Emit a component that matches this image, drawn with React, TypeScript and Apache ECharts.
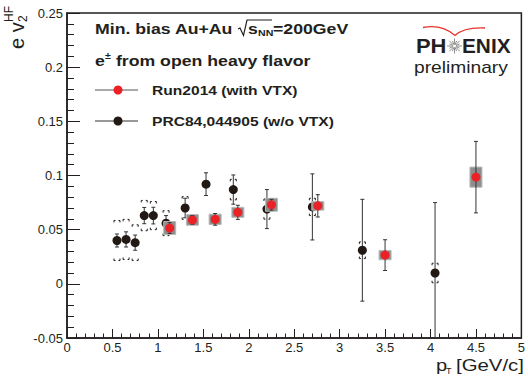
import React, { useEffect, useRef } from "react";
import * as echarts from "echarts";

// PRC84,044905 (w/o VTX)
const prcPt = [0.55, 0.65, 0.75, 0.85, 0.95, 1.09, 1.3, 1.53, 1.83, 2.2, 2.7, 3.25, 4.05];
const prcV2 = [0.040, 0.041, 0.038, 0.063, 0.063, 0.056, 0.070, 0.092, 0.087, 0.069, 0.071, 0.031, 0.010];
const prcStat = [0.006, 0.007, 0.007, 0.0075, 0.0077, 0.007, 0.009, 0.0105, 0.0135, 0.018, 0.0305, 0.047, 0.065];
const prcSys = [0.0185, 0.0185, 0.0165, 0.014, 0.013, 0.0115, 0.0105, 0.002, 0.0095, 0.0093, 0.008, 0.0077, 0.009];

// Run2014 (with VTX)
const runPt = [1.13, 1.38, 1.63, 1.88, 2.25, 2.76, 3.5, 4.5];
const runV2 = [0.0515, 0.059, 0.0595, 0.066, 0.073, 0.072, 0.0265, 0.0985];
const runStat = [0.005, 0.004, 0.0054, 0.0065, 0.005, 0.0103, 0.0142, 0.033];
const runSys = [0.006, 0.0049, 0.0048, 0.0046, 0.006, 0.004, 0.0043, 0.0093];

const xTickLabels = ["0", "0.5", "1", "1.5", "2", "2.5", "3", "3.5", "4", "4.5", "5"];
const yTickLabels = ["-0.05", "0", "0.05", "0.1", "0.15", "0.2", "0.25"];

const FONT = "'Liberation Sans', Arial, Helvetica, sans-serif";
const INK = "#231f20";
const BLACK = "#221915";
const RED = "#ec2125";
const ERR = "#333";

function clampY(v: number, cs: any) {
  return Math.max(cs.y, Math.min(cs.y + cs.height, v));
}

export default function App() {
  const ref = useRef<HTMLDivElement>(null);
  useEffect(() => {
    if (!ref.current) return;
    const chart = echarts.init(ref.current, undefined, { renderer: "svg" });

    const prcData = prcPt.map((x, i) => [x, prcV2[i], prcStat[i], prcSys[i]]);
    const runData = runPt.map((x, i) => [x, runV2[i], runStat[i], runSys[i]]);

    const blackErr = (params: any, api: any) => {
      const cs = params.coordSys;
      const x = api.value(0), y = api.value(1), s = api.value(2), sy = api.value(3);
      const t = api.coord([x, y + s]);
      const b = api.coord([x, y - s]);
      const ty = clampY(t[1], cs), by = clampY(b[1], cs);
      const cx = t[0];
      const st = { stroke: ERR, lineWidth: 1 };
      const kids: any[] = [
        { type: "line", shape: { x1: cx, y1: ty, x2: cx, y2: by }, style: st },
      ];
      if (t[1] >= cs.y) kids.push({ type: "line", shape: { x1: cx - 2, y1: ty, x2: cx + 2, y2: ty }, style: st });
      if (b[1] <= cs.y + cs.height) kids.push({ type: "line", shape: { x1: cx - 2, y1: by, x2: cx + 2, y2: by }, style: st });
      const st2 = api.coord([x, y + sy])[1];
      const sb2 = api.coord([x, y - sy])[1];
      const bs = { stroke: BLACK, lineWidth: 1, fill: "none" };
      const o = 3, a = 1.5, h = 2;
      kids.push({ type: "polyline", shape: { points: [[cx - o, st2 + h], [cx - o, st2], [cx - a, st2]] }, style: bs });
      kids.push({ type: "polyline", shape: { points: [[cx + a, st2], [cx + o, st2], [cx + o, st2 + h]] }, style: bs });
      kids.push({ type: "polyline", shape: { points: [[cx - o, sb2 - h], [cx - o, sb2], [cx - a, sb2]] }, style: bs });
      kids.push({ type: "polyline", shape: { points: [[cx + a, sb2], [cx + o, sb2], [cx + o, sb2 - h]] }, style: bs });
      return { type: "group", children: kids };
    };

    const redErr = (params: any, api: any) => {
      const x = api.value(0), y = api.value(1), s = api.value(2), sy = api.value(3);
      const t = api.coord([x, y + s]);
      const b = api.coord([x, y - s]);
      const cx = t[0];
      const bt = api.coord([x, y + sy])[1];
      const bb = api.coord([x, y - sy])[1];
      const st = { stroke: ERR, lineWidth: 1 };
      return {
        type: "group",
        children: [
          { type: "rect", shape: { x: cx - 6, y: bt, width: 12, height: bb - bt }, style: { fill: "#8e8e8e", stroke: "#b8b8b8", lineWidth: 1 } },
          { type: "line", shape: { x1: cx, y1: t[1], x2: cx, y2: b[1] }, style: st },
          { type: "line", shape: { x1: cx - 2, y1: t[1], x2: cx + 2, y2: t[1] }, style: st },
          { type: "line", shape: { x1: cx - 2, y1: b[1], x2: cx + 2, y2: b[1] }, style: st },
        ],
      };
    };

    const boldT = (text: string, x: number, y: number, size: number, sx: number, extra: any = {}) => ({
      type: "text",
      x,
      y,
      scaleX: sx,
      style: {
        text,
        fontFamily: FONT,
        fontWeight: "bold",
        fontSize: size,
        fill: INK,
        align: "left",
        verticalAlign: "middle",
        ...extra,
      },
    });

    const starRays: any[] = [];
    for (let k = 0; k < 16; k++) {
      const ang = (k * Math.PI) / 8;
      const r1 = 1.5, r2 = k % 2 === 0 ? 7.5 : 5.5;
      starRays.push({
        type: "line",
        shape: {
          x1: 454.5 + r1 * Math.cos(ang),
          y1: 46 + r1 * Math.sin(ang),
          x2: 454.5 + r2 * Math.cos(ang),
          y2: 46 + r2 * Math.sin(ang),
        },
        style: { stroke: "#8f8f8f", lineWidth: 1 },
      });
    }

    const graphic: any[] = [
      // header
      boldT("Min. bias Au+Au", 95, 29, 15, 1.18),
      {
        type: "polyline",
        shape: { points: [[238, 29], [240, 28], [243.5, 35.5], [247, 20], [272, 20]] },
        style: { stroke: INK, lineWidth: 1.2, fill: "none" },
      },
      boldT("s", 248, 29, 15, 1.18),
      boldT("NN", 258, 33, 9, 1.18),
      boldT("=200GeV", 273, 29, 15, 1.18),
      boldT("e", 95, 61, 15, 1.18),
      boldT("±", 105, 56, 9, 1.18),
      boldT(" from open heavy flavor", 111, 61, 15, 1.18),
      // legend
      { type: "line", shape: { x1: 95, y1: 90, x2: 138, y2: 90 }, style: { stroke: "#555", lineWidth: 1 } },
      { type: "circle", shape: { cx: 118, cy: 90, r: 4.5 }, style: { fill: RED } },
      boldT("Run2014 (with VTX)", 152, 90, 13, 1.2),
      { type: "line", shape: { x1: 95, y1: 121, x2: 138, y2: 121 }, style: { stroke: "#333", lineWidth: 1 } },
      { type: "circle", shape: { cx: 118, cy: 121, r: 4.5 }, style: { fill: BLACK } },
      boldT("PRC84,044905 (w/o VTX)", 152, 121, 13, 1.2),
      // PHENIX logo
      {
        type: "bezierCurve",
        shape: { x1: 423, y1: 27.5, cpx1: 442, cpy1: 24, x2: 455, y2: 35.5 },
        style: { stroke: "#e8342b", lineWidth: 1.3, fill: "none" },
      },
      {
        type: "bezierCurve",
        shape: { x1: 455, y1: 35.5, cpx1: 464, cpy1: 27, x2: 485, y2: 28 },
        style: { stroke: "#e8342b", lineWidth: 1.3, fill: "none" },
      },
      boldT("PH", 446.5, 46, 20, 1.1, { align: "right" }),
      ...starRays,
      boldT("ENIX", 462, 46, 20, 1.04),
      {
        type: "text",
        x: 414,
        y: 68,
        scaleX: 1.2,
        style: { text: "preliminary", fontFamily: FONT, fontSize: 16, fill: INK, align: "left", verticalAlign: "middle" },
      },
      // y axis title
      {
        type: "group",
        x: 17,
        y: 49,
        rotation: Math.PI / 2,
        children: [
          { type: "text", x: 0, y: 0, style: { text: "e v", fontFamily: FONT, fontSize: 20, fill: INK, align: "left", verticalAlign: "middle" } },
          { type: "text", x: 27, y: -8, style: { text: "HF", fontFamily: FONT, fontSize: 12, fill: INK, align: "left", verticalAlign: "middle" } },
          { type: "text", x: 27, y: 6, style: { text: "2", fontFamily: FONT, fontSize: 12, fill: INK, align: "left", verticalAlign: "middle" } },
        ],
      },
      // x axis title
      { type: "text", x: 436, y: 365, scaleX: 1.18, style: { text: "p", fontFamily: FONT, fontSize: 17, fill: INK, align: "left", verticalAlign: "middle" } },
      { type: "text", x: 446, y: 371, style: { text: "T", fontFamily: FONT, fontSize: 9, fill: INK, align: "left", verticalAlign: "middle" } },
      { type: "text", x: 456, y: 365, scaleX: 1.2, style: { text: "[GeV/c]", fontFamily: FONT, fontSize: 17, fill: INK, align: "left", verticalAlign: "middle" } },
    ];

    chart.setOption({
      animation: false,
      backgroundColor: "#fff",
      grid: {
        left: 67,
        right: 1.5,
        top: 13,
        bottom: 42,
        show: true,
        borderColor: INK,
        borderWidth: 1.5,
        backgroundColor: "transparent",
      },
      xAxis: {
        type: "value",
        min: 0,
        max: 5,
        interval: 0.5,
        splitLine: { show: false },
        axisLine: { onZero: false, lineStyle: { color: INK, width: 1.5 } },
        axisTick: { inside: true, length: 9, lineStyle: { color: INK, width: 1 } },
        minorTick: { show: true, splitNumber: 5, length: 4.5, lineStyle: { color: INK, width: 1 } },
        axisLabel: {
          margin: 3,
          color: INK,
          fontFamily: FONT,
          fontSize: 13,
          formatter: (v: number) => xTickLabels[Math.round(v / 0.5)],
        },
      },
      yAxis: {
        type: "value",
        min: -0.05,
        max: 0.25,
        interval: 0.05,
        splitLine: { show: false },
        axisLine: { show: true, onZero: false, lineStyle: { color: INK, width: 1.5 } },
        axisTick: { show: true, inside: true, length: 13, lineStyle: { color: INK, width: 1 } },
        minorTick: { show: true, splitNumber: 5, length: 7, lineStyle: { color: INK, width: 1 } },
        axisLabel: {
          margin: 4,
          color: INK,
          fontFamily: FONT,
          fontSize: 13,
          formatter: (v: number) => yTickLabels[Math.round((v + 0.05) / 0.05)],
        },
      },
      series: [
        { type: "custom", renderItem: blackErr, data: prcData, encode: { x: 0, y: 1 }, z: 2 },
        { type: "scatter", data: prcData.map((d) => [d[0], d[1]]), symbolSize: 9, itemStyle: { color: BLACK, opacity: 1 }, z: 3 },
        { type: "custom", renderItem: redErr, data: runData, encode: { x: 0, y: 1 }, z: 4 },
        { type: "scatter", data: runData.map((d) => [d[0], d[1]]), symbolSize: 9, itemStyle: { color: RED, opacity: 1 }, z: 5 },
      ],
      graphic,
    });
    return () => chart.dispose();
  }, []);
  return <div ref={ref} style={{ width: 528, height: 380, position: "absolute", left: 0, top: 0 }} />;
}
